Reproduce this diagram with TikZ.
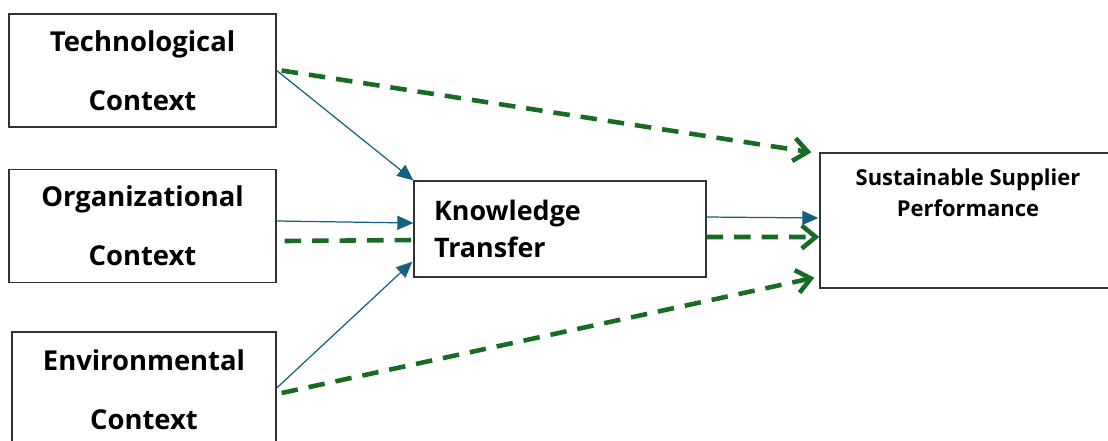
\documentclass[tikz,border=0pt]{standalone}
\usepackage{fontspec}
\setmainfont{Open Sans}
\usetikzlibrary{arrows.meta}

\definecolor{flowblue}{RGB}{21,96,130}
\definecolor{effgreen}{RGB}{25,107,36}

\tikzset{
	box/.style={draw=black!80, line width=0.8pt, rectangle, inner sep=0pt},
	ctx/.style={box, minimum width=5.34cm, minimum height=2.26cm, align=center,
		font=\bfseries\fontsize{15.6}{33.5}\selectfont},
	flow/.style={flowblue, line width=0.7pt, -{Triangle[length=0.32cm,width=0.28cm]}},
	effect/.style={effgreen, line width=2.6pt, dash pattern=on 0.33cm off 0.22cm,
		-{Straight Barb[length=0.28cm,width=0.46cm]}}
}

\begin{document}
\begin{tikzpicture}[x=0.02cm, y=-0.02cm]
	
	\useasboundingbox (0,0) rectangle (1108,440);
	
	% the three contexts
	\node[ctx] (tech) at (142.5,70.5) {Technological\\Context};
	\node[ctx] (org) at (142.5,226) {Organizational\\Context};
	\node[ctx, minimum width=5.28cm, minimum height=2.32cm] (env) at (144,390) {Environmental\\Context};
	
	\node[box, minimum width=5.84cm, minimum height=1.92cm, text width=5.04cm, inner xsep=0.4cm,
		align=left, font=\bfseries\fontsize{15.3}{21}\selectfont] (kt) at (560,229) {Knowledge\\Transfer};
	\node[box, minimum width=5.92cm, minimum height=2.7cm,
		label={[anchor=north, yshift=-0.2cm, align=center,
			font=\bfseries\fontsize{12.5}{18}\selectfont]north:Sustainable Supplier\\Performance}] (ssp) at (968,220.5) {};
	
	% mediated paths
	\draw[flow] (tech.east) -- (kt.north west);
	\draw[flow] ([shift={(0,-5)}]org.east) -- ([shift={(0,-6)}]kt.west);
	\draw[flow] ([shift={(0,-2)}]env.east) -- ([shift={(-1,-16)}]kt.south west);
	\draw[flow] ([shift={(0,-12)}]kt.east) -- ([shift={(-1,-2.5)}]ssp.west);
	
	% direct effects
	\draw[effect] ([shift={(5,0)}]tech.east) -- ([shift={(-8,0)}]ssp.north west);
	\draw[effect, -] ([shift={(8,15)}]org.east) -- ([shift={(0,11)}]kt.west);
	\draw[effect] ([shift={(0,8)}]kt.east) -- ([shift={(0,16.5)}]ssp.west);
	\draw[effect] ([shift={(5,3)}]env.east) -- ([shift={(-5,-11)}]ssp.south west);
	
\end{tikzpicture}
\end{document}
